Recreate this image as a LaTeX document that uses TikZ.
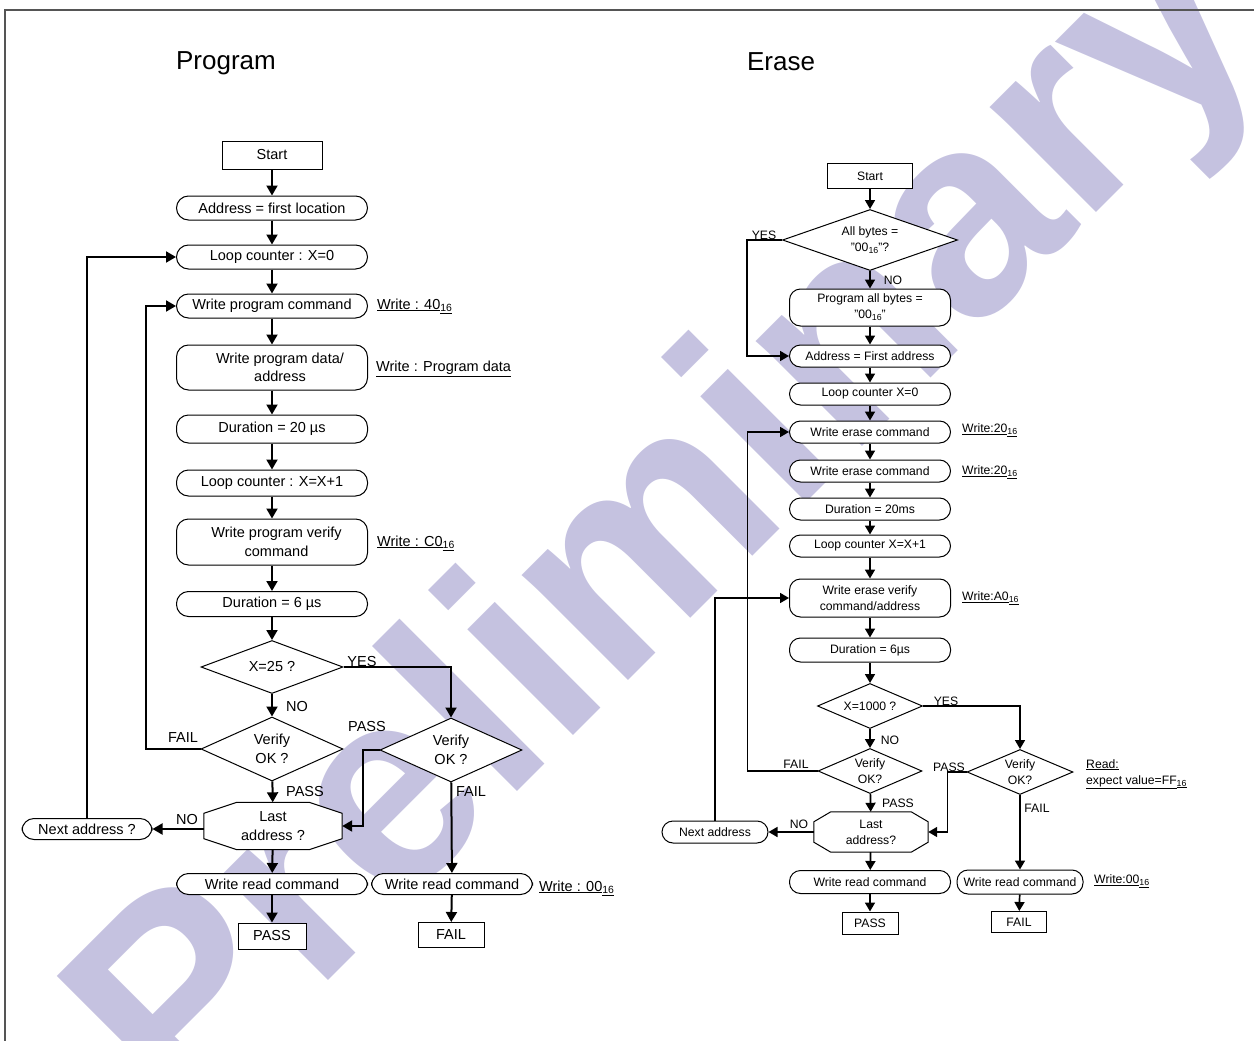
\documentclass[tikz,border=0pt]{standalone}
\usepackage{fontspec}
\setmainfont{Liberation Sans}
\usepackage{tikz}
\usetikzlibrary{arrows.meta,shapes.geometric}

\definecolor{wmcolor}{RGB}{197,194,224}
\definecolor{framegray}{RGB}{85,85,85}

\pgfdeclarelayer{wmlayer}
\pgfdeclarelayer{boxlayer}
\pgfsetlayers{wmlayer,boxlayer,main}

\newcommand{\pfont}{\fontsize{14.5}{18.5}\selectfont}
\newcommand{\efont}{\fontsize{12.2}{16}\selectfont}
\newcommand{\hexsub}[1]{\raisebox{-0.3ex}{\scalebox{0.72}{#1}}}
% octagon drawn round a named node: node, x chamfer, y chamfer
\newcommand{\octagon}[3]{%
  \draw[line width=1pt, fill=white] ([xshift=#2]#1.north west) -- ([xshift=-#2]#1.north east)
    -- ([yshift=-#3]#1.north east) -- ([yshift=#3]#1.south east)
    -- ([xshift=-#2]#1.south east) -- ([xshift=#2]#1.south west)
    -- ([yshift=#3]#1.south west) -- ([yshift=-#3]#1.north west) -- cycle;}

\begin{document}
\begin{tikzpicture}[x=1pt, y=-1pt,
  box/.style={rectangle, draw, line width=1pt, fill=white, align=center, inner sep=1pt},
  term/.style={box, rounded corners=12pt, minimum width=191pt, minimum height=25pt},
  dec/.style={diamond, draw, line width=1pt, fill=white, align=center, inner sep=0pt, aspect=2.2, minimum width=142pt, minimum height=64pt},
  octo/.style={rectangle, align=center, inner sep=0pt, minimum width=138pt, minimum height=47pt},
  arr/.style={-{Triangle[length=10pt,width=11pt]}, line width=2pt},
  tag/.style={inner sep=0pt},
  note/.style={inner sep=0pt, anchor=west, align=left},
  wm/.style={anchor=base west, rotate=45, inner sep=0pt, text=wmcolor, font=\fontsize{283}{283}\selectfont\bfseries},
  font=\pfont
]
  \useasboundingbox (0,0) rectangle (1254,1041);

  % watermark
  \begin{pgfonlayer}{wmlayer}
    \begin{scope}
      \clip (0,0) rectangle (1254,1041);
      \node[wm] (wmark) at (181,1128) {Preliminary};
    \end{scope}
  \end{pgfonlayer}

  \draw[framegray, line width=2pt] (5,1041) -- (5,10) -- (1254,10);

  % ---------------- Program ----------------
  \node[tag, font=\fontsize{26}{30}\selectfont] (ptitle) at (226,63) {Program};

  \node[box, minimum width=100pt, minimum height=28pt] (pstart) at (272,155) {Start};
  \node[term, minimum height=24pt] (paddr) at (272,208) {Address = first location};
  \node[term, minimum height=24pt] (ploop0) at (272,257) {Loop counter : X=0};
  \node[term, minimum height=24pt] (pwcmd) at (272,306) {Write program command};
  \node[term, minimum height=45pt] (pwdata) at (272,367.5) {\hspace*{16pt}Write program data/\\\hspace*{16pt}address};
  \node[term, minimum height=28pt] (pdur20) at (272,429) {Duration = 20 µs};
  \node[term, minimum height=26pt] (ploop1) at (272,483) {Loop counter : X=X+1};
  \node[term, minimum height=46pt] (pwver) at (272,542) {\hspace*{9pt}Write program verify\\\hspace*{9pt}command};
  \node[term, minimum height=25pt] (pdur6) at (272,604) {Duration = 6 µs};
  \node[dec, minimum height=53pt, aspect=2.68] (px25) at (272,667) {X=25 ?};
  \node[dec] (pver) at (272,749) {Verify\\OK ?};
  \node[octo] (plast) at (273,826) {Last\\address ?};
  \node[term, minimum height=21pt] (pread) at (272,884) {Write read command};
  \node[box, minimum width=68pt, minimum height=26pt] (ppass) at (272,936) {PASS};
  \node[term, minimum width=130pt, minimum height=21pt] (pnext) at (87,829) {Next address ?};
  \node[dec] (pver2) at (451,750) {Verify\\OK ?};
  \node[term, minimum width=161pt, minimum height=21pt] (pread2) at (452,884) {Write read command};
  \node[box, minimum width=66pt, minimum height=25pt] (pfail) at (451,935) {FAIL};

  \begin{pgfonlayer}{boxlayer}
    \octagon{plast}{33pt}{11pt}
  \end{pgfonlayer}

  \node[note] (pn40) at (377,306) {\underline{Write : 40}\underline{\hexsub{16}}};
  \node[note] (pndata) at (376,369) {\underline{Write : Program data}};
  \node[note] (pnc0) at (377,543) {\underline{Write : C0}\underline{\hexsub{16}}};
  \node[note] (pn00) at (539,888) {\underline{Write : 00}\underline{\hexsub{16}}};

  \node[tag] (pyes) at (362,662) {YES};
  \node[tag] (pno1) at (297,707) {NO};
  \node[tag] (pfail1) at (183,738) {FAIL};
  \node[tag] (ppass1) at (367,727) {PASS};
  \node[tag] (ppass2) at (305,792) {PASS};
  \node[tag] (pfail2) at (471,792) {FAIL};
  \node[tag] (pno2) at (187,820) {NO};

  \draw[arr] (pstart) -- (paddr);
  \draw[arr] (paddr) -- (ploop0);
  \draw[arr] (ploop0) -- (pwcmd);
  \draw[arr] (pwcmd) -- (pwdata);
  \draw[arr] (pwdata) -- (pdur20);
  \draw[arr] (pdur20) -- (ploop1);
  \draw[arr] (ploop1) -- (pwver);
  \draw[arr] (pwver) -- (pdur6);
  \draw[arr] (pdur6) -- (px25);
  \draw[arr] (px25) -- (pver);
  \draw[arr] (pver) -- (plast);
  \draw[arr] (plast) -- (pread);
  \draw[arr] (pread) -- (ppass);
  \draw[arr] (px25.east) -| (pver2.north);
  \draw[arr] (pver2.west) -- ++(-17,0) |- (plast.east);
  \draw[arr] (pver2) -- (pread2);
  \draw[arr] (pread2) -- (pfail);
  \draw[arr] (pver.west) -- ++(-55,0) |- (pwcmd.west);
  \draw[arr] (plast.west |- pnext.east) -- (pnext.east);
  \draw[arr] (pnext.north) |- (ploop0.west);

  % ---------------- Erase ----------------
  \node[tag, font=\fontsize{26}{30}\selectfont] (etitle) at (781,62) {Erase};

  \begin{scope}[font=\efont,
    term/.append style={rounded corners=11pt, minimum width=161pt, minimum height=22pt},
    arr/.append style={-{Triangle[length=9pt,width=10pt]}, line width=1.7pt}]
    \node[box, minimum width=85pt, minimum height=25pt] (estart) at (870,176) {Start};
    \node[dec, minimum width=175pt, minimum height=61pt, aspect=2.87] (eall) at (870,240) {All bytes =\\"00\hexsub{16}"?};
    \node[term, minimum height=37pt] (eprog) at (870,307.5) {Program all bytes =\\"00\hexsub{16}"};
    \node[term] (eaddr) at (870,356) {Address = First address};
    \node[term] (eloop0) at (870,394) {Loop counter X=0};
    \node[term] (ewe1) at (870,432) {Write erase command};
    \node[term] (ewe2) at (870,471) {Write erase command};
    \node[term] (edur20) at (870,509) {Duration = 20ms};
    \node[term] (eloop1) at (870,546) {Loop counter X=X+1};
    \node[term, minimum height=38pt] (ewver) at (870,598) {Write erase verify\\command/address};
    \node[term, minimum height=24pt] (edur6) at (870,650) {Duration = 6µs};
    \node[dec, minimum width=105pt, minimum height=45pt, aspect=2.33] (ex1000) at (870,706) {X=1000 ?};
    \node[dec, minimum width=104pt, minimum height=45pt, aspect=2.31] (ever) at (870,771) {Verify\\OK?};
    \node[octo, minimum width=114pt, minimum height=40pt] (elast) at (871,832) {Last\\address?};
    \node[term, minimum height=23pt] (eread) at (870,882) {Write read command};
    \node[box, minimum width=56pt, minimum height=22pt] (epass) at (870,923) {PASS};
    \node[term, minimum width=106pt, minimum height=22pt] (enext) at (715,832) {Next address};
    \node[dec, minimum width=106pt, minimum height=45pt, aspect=2.35] (ever2) at (1020,772) {Verify\\OK?};
    \node[term, minimum width=126pt, minimum height=24pt] (eread2) at (1020,882) {Write read command};
    \node[box, minimum width=55pt, minimum height=21pt] (efail) at (1019,922) {FAIL};

    \begin{pgfonlayer}{boxlayer}
      \octagon{elast}{17pt}{10pt}
    \end{pgfonlayer}

    \node[note] (en20a) at (962,430) {\underline{Write:20}\underline{\hexsub{16}}};
    \node[note] (en20b) at (962,472) {\underline{Write:20}\underline{\hexsub{16}}};
    \node[note] (ena0) at (962,598) {\underline{Write:A0}\underline{\hexsub{16}}};
    \node[note] (en00) at (1094,881) {\underline{Write:00}\underline{\hexsub{16}}};
    \node[note] (enread) at (1086,774) {\underline{Read:}\\\underline{expect value=FF}\underline{\hexsub{16}}};

    \node[tag] (eyes1) at (764,235) {YES};
    \node[tag] (eno1) at (893,280) {NO};
    \node[tag] (eyes2) at (946,701) {YES};
    \node[tag] (eno2) at (890,740) {NO};
    \node[tag] (efail1) at (796,764) {FAIL};
    \node[tag] (epass1) at (949,767) {PASS};
    \node[tag] (epass2) at (898,803) {PASS};
    \node[tag] (efail2) at (1037,808) {FAIL};
    \node[tag] (eno3) at (799,824) {NO};

    \draw[arr] (estart) -- (eall);
    \draw[arr] (eall) -- (eprog);
    \draw[arr] (eprog) -- (eaddr);
    \draw[arr] (eaddr) -- (eloop0);
    \draw[arr] (eloop0) -- (ewe1);
    \draw[arr] (ewe1) -- (ewe2);
    \draw[arr] (ewe2) -- (edur20);
    \draw[arr] (edur20) -- (eloop1);
    \draw[arr] (eloop1) -- (ewver);
    \draw[arr] (ewver) -- (edur6);
    \draw[arr] (edur6) -- (ex1000);
    \draw[arr] (ex1000) -- (ever);
    \draw[arr] (ever) -- (elast);
    \draw[arr] (elast) -- (eread);
    \draw[arr] (eread) -- (epass);
    \draw[arr] (eall.west) -- ++(-35,0) |- (eaddr.west);
    \draw[arr] (ex1000.east) -| (ever2.north);
    \draw[arr] (ever.west) -- ++(-70,0) |- (ewe1.west);
    \draw[arr] (ever2.west) -- ++(-19,0) |- (elast.east);
    \draw[arr] (ever2) -- (eread2);
    \draw[arr] (eread2) -- (efail);
    \draw[arr] (elast.west) -- (enext.east);
    \draw[arr] (enext.north) |- (ewver.west);
  \end{scope}
\end{tikzpicture}
\end{document}
